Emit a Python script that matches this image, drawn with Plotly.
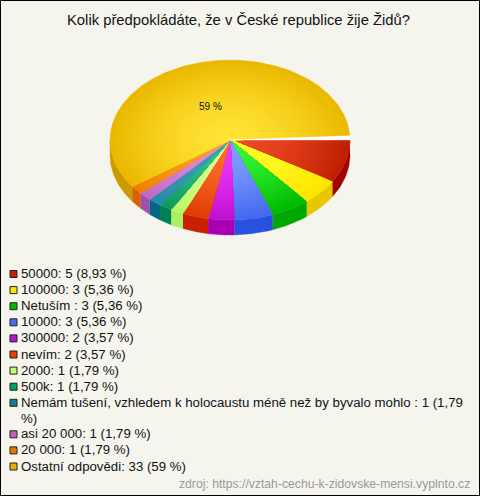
import numpy as np
import plotly.graph_objects as go

title = "Kolik předpokládáte, že v České republice žije Židů?"
source = "zdroj: https://vztah-cechu-k-zidovske-mensi.vyplnto.cz"
categories = ["50000", "100000", "Netuším ", "10000", "300000", "nevím", "2000", "500k",
              "Nemám tušení, vzhledem k holocaustu méně než by byvalo mohlo ",
              "asi 20 000", "20 000", "Ostatní odpovědi"]
values = [5, 3, 3, 3, 2, 2, 1, 1, 1, 1, 1, 33]
shares = ["8,93", "5,36", "5,36", "5,36", "3,57", "3,57", "1,79", "1,79", "1,79", "1,79", "1,79", "59"]
swatch = ["#c82000", "#ffe600", "#00b800", "#4a6cf0", "#c010d0", "#e84000",
          "#c0ff70", "#00a060", "#1a7a9a", "#c060c0", "#e87800", "#e8b000"]
inner = ["#f04a28", "#ffff28", "#38f838", "#80a0ff", "#f038ff", "#ff7030",
         "#e0ff90", "#30c890", "#40a0b0", "#e090e0", "#ffa030", "#ffe435"]
outer = ["#c02000", "#ffe400", "#00b800", "#4468f0", "#c010d0", "#e03c00",
         "#b8f868", "#109860", "#2a8aa8", "#c068c8", "#f08000", "#ebb800"]
side = ["#a00000", "#e6c800", "#00a800", "#2a50e0", "#a800b0", "#c82000",
        "#a8f060", "#008050", "#006880", "#a050a8", "#d86000", "#cc9a00"]

W, H = 480, 496
CX, CY, RX, RY, DEPTH = 230, 140, 120, 80, 15
RINGS = 26
FRONT_SCALE = 144.5 / 147.86   # the front slices appear slightly compressed by the perspective
GAP = 3.0                      # the largest slice is pulled away from the first one


def hex_rgb(c):
    return np.array([int(c[i:i + 2], 16) for i in (1, 3, 5)], float)


def mix(a, b, t):
    v = hex_rgb(a) * (1 - t) + hex_rgb(b) * t
    return "rgb(%d,%d,%d)" % tuple(v.round())


cum = np.cumsum([0] + values) * 360 / sum(values)
starts = cum[:-1] * FRONT_SCALE
ends = cum[1:] * FRONT_SCALE
ends[-1] = 360 - GAP

fig = go.Figure()


def poly(xs, ys, color):
    fig.add_trace(go.Scatter(x=xs, y=ys, mode="lines", fill="toself", fillcolor=color,
                             line=dict(width=0.4, color=color), hoverinfo="skip", showlegend=False))


# Side walls, only the part of each slice facing the viewer
for a, b, c in zip(starts, ends, side):
    lo, hi = a, min(b, 180)
    if hi <= lo:
        continue
    t = np.radians(np.linspace(lo, hi, 40))
    x = CX + RX * np.cos(t)
    y = CY + RY * np.sin(t)
    poly(np.r_[x, x[::-1]], np.r_[y, y[::-1] + DEPTH], c)

# Top surface: concentric wedges give the radial shading
for a, b, ci, co in zip(starts, ends, inner, outer):
    t = np.radians(np.linspace(a, b, max(int(b - a), 6) + 1))
    for k in range(RINGS, 0, -1):
        f = k / RINGS
        x = np.r_[CX, CX + RX * f * np.cos(t), CX]
        y = np.r_[CY, CY + RY * f * np.sin(t), CY]
        poly(x, y, mix(ci, co, f ** 1.6))

# Pale gap between the pulled-out slice and the first one
t = np.radians(np.linspace(360 - GAP, 360, 5))
poly(np.r_[CX, CX + (RX + 1) * np.cos(t), CX], np.r_[CY, CY + (RY + 1) * np.sin(t), CY], "#ffffff")

TEXT = "#111111"
annotations = [
    dict(x=238, y=20, text=title, showarrow=False, xanchor="center", yanchor="middle",
         font=dict(size=14.8, color=TEXT)),
    dict(x=210, y=106, text=f"{shares[-1]} %", showarrow=False, xanchor="center", yanchor="middle",
         font=dict(size=10, color=TEXT)),
    dict(x=471.5, y=484, text=source, showarrow=False, xanchor="right", yanchor="middle",
         font=dict(size=12.2, color="#999999")),
]
shapes = []
row_y = 274
for cat, v, s, col in zip(categories, values, shares, swatch):
    label = f"{cat}: {v} ({s} %)"
    if len(label) > 70:
        label = label.replace(f"({s} %)", f"({s}<br>%)")
    extra = label.count("<br>")
    annotations.append(dict(x=19, y=row_y - 0.5, text=label.split("<br>")[0], showarrow=False,
                            xanchor="left", yanchor="middle", font=dict(size=13.25, color=TEXT)))
    if extra:
        annotations.append(dict(x=19, y=row_y + 15.5, text=label.split("<br>")[1], showarrow=False,
                                xanchor="left", yanchor="middle", font=dict(size=13.25, color=TEXT)))
    shapes.append(dict(type="rect", x0=10, x1=17, y0=row_y - 3.5, y1=row_y + 3.5, fillcolor=col,
                       line=dict(color="#222222", width=1), layer="above"))
    row_y += 16.1 * (1 + extra) - (0.7 if extra else 0)

shapes.append(dict(type="rect", x0=0.5, x1=W - 0.5, y0=0.5, y1=H - 0.5,
                   line=dict(color="#000000", width=1), fillcolor="rgba(0,0,0,0)", layer="above"))

fig.update_layout(
    width=W, height=H, margin=dict(l=0, r=0, t=0, b=0),
    paper_bgcolor="#f5f5ee", plot_bgcolor="#f5f5ee",
    font=dict(family="Liberation Sans, Arial, sans-serif"),
    xaxis=dict(range=[0, W], visible=False, fixedrange=True),
    yaxis=dict(range=[H, 0], visible=False, fixedrange=True),
    annotations=annotations, shapes=shapes, showlegend=False,
)
fig.write_html("out.html", config=dict(displayModeBar=False),
               post_script="document.body.style.margin='0';document.body.style.overflow='hidden';")
